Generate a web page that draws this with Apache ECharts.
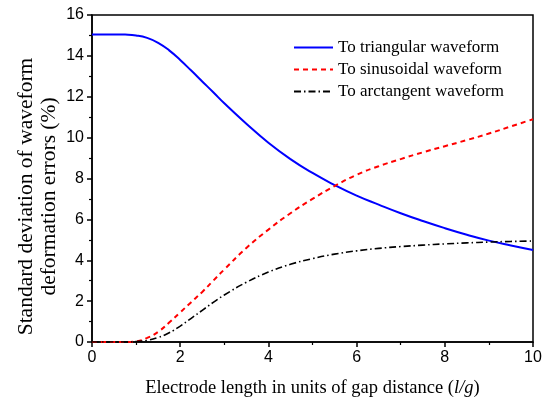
<!DOCTYPE html>
<html>
<head>
<meta charset="utf-8">
<script src="https://cdn.jsdelivr.net/npm/echarts@6/dist/echarts.min.js"></script>
<style>html,body{margin:0;padding:0;background:#fff;}#c{width:552px;height:403px;}</style>
</head>
<body>
<div id="c"></div>
<script>
const xValues = [0, 0.25, 0.5, 0.75, 1, 1.25, 1.5, 1.75, 2, 2.25, 2.5, 2.75, 3, 3.5, 4, 4.5, 5, 5.5, 6, 6.5, 7, 7.5, 8, 8.5, 9, 9.5, 10];
const triangular = [15.05, 15.05, 15.05, 15.04, 15.0, 14.88, 14.64, 14.27, 13.8, 13.28, 12.75, 12.22, 11.68, 10.68, 9.75, 8.95, 8.27, 7.68, 7.16, 6.72, 6.3, 5.92, 5.57, 5.25, 4.96, 4.72, 4.5];
const sinusoidal = [0, 0, 0, 0, 0.03, 0.2, 0.5, 0.95, 1.45, 1.95, 2.45, 3.0, 3.55, 4.6, 5.5, 6.3, 7.0, 7.63, 8.18, 8.6, 8.95, 9.28, 9.58, 9.88, 10.2, 10.55, 10.9];
const arctangent = [0, 0, 0, 0, 0.02, 0.08, 0.22, 0.45, 0.78, 1.16, 1.55, 1.94, 2.3, 2.92, 3.42, 3.8, 4.08, 4.3, 4.46, 4.58, 4.67, 4.74, 4.8, 4.85, 4.89, 4.92, 4.94];
const seriesNames = ['To triangular waveform', 'To sinusoidal waveform', 'To arctangent waveform'];
const xTitle = 'Electrode length in units of gap distance (';
const xTitleItalic = 'l/g';
const yTitle = 'Standard deviation of waveform\ndeformation errors (%)';

const pair = (ys) => xValues.map((x, i) => [x, ys[i]]);
const chart = echarts.init(document.getElementById('c'));
const serif = '"Liberation Serif", "Times New Roman", serif';
const sans = '"Liberation Sans", Arial, sans-serif';
chart.setOption({
  animation: false,
  backgroundColor: '#fff',
  grid: { left: 92, right: 19, top: 15, bottom: 60, show: true, borderColor: '#000', borderWidth: 1.5, backgroundColor: 'transparent' },
  legend: {
    left: 293, top: 39, padding: 0, orient: 'vertical', itemGap: 5, itemWidth: 39, itemHeight: 14,
    itemStyle: { opacity: 0 },
    textStyle: { fontFamily: serif, fontSize: 17, color: '#000' },
    data: seriesNames
  },
  xAxis: {
    type: 'value', min: 0, max: 10, interval: 2,
    name: '{n|' + xTitle + '}{i|' + xTitleItalic + '}{n|)}',
    nameLocation: 'middle', nameGap: 37, nameMoveOverlap: false,
    nameTextStyle: { rich: { n: { fontFamily: serif, fontSize: 18.5, color: '#000' }, i: { fontFamily: serif, fontSize: 18.5, fontStyle: 'italic', color: '#000' } } },
    axisLine: { show: true, lineStyle: { color: '#000', width: 1.5 } },
    axisTick: { show: true, length: 5, inside: false, lineStyle: { color: '#000', width: 1.5 } },
    minorTick: { show: true, splitNumber: 2, length: 3, lineStyle: { color: '#000', width: 1.2 } },
    splitLine: { show: false },
    axisLabel: { fontFamily: sans, fontSize: 16, color: '#000', margin: 8 }
  },
  yAxis: {
    type: 'value', min: 0, max: 16, interval: 2,
    name: yTitle, nameLocation: 'middle', nameGap: 31, nameRotate: 90, nameMoveOverlap: false,
    nameTextStyle: { fontFamily: serif, fontSize: 21.5, color: '#000', lineHeight: 23, padding: [0, 36, 0, 0] },
    axisLine: { show: true, lineStyle: { color: '#000', width: 1.5 } },
    axisTick: { show: true, length: 5, inside: false, lineStyle: { color: '#000', width: 1.5 } },
    minorTick: { show: true, splitNumber: 2, length: 3, lineStyle: { color: '#000', width: 1.2 } },
    splitLine: { show: false },
    axisLabel: { fontFamily: sans, fontSize: 16, color: '#000', margin: 8 }
  },
  series: [
    { name: seriesNames[0], type: 'line', data: pair(triangular), smooth: 0.5, symbol: 'none', lineStyle: { color: '#0000ff', width: 2 }, itemStyle: { color: '#0000ff' } },
    { name: seriesNames[1], type: 'line', data: pair(sinusoidal), smooth: 0.5, symbol: 'none', lineStyle: { color: '#ff0000', width: 2, type: [5, 4] }, itemStyle: { color: '#ff0000' } },
    { name: seriesNames[2], type: 'line', data: pair(arctangent), smooth: 0.5, symbol: 'none', lineStyle: { color: '#000', width: 1.6, type: [7, 3, 1.5, 3] }, itemStyle: { color: '#000' } }
  ]
});
</script>
</body>
</html>
